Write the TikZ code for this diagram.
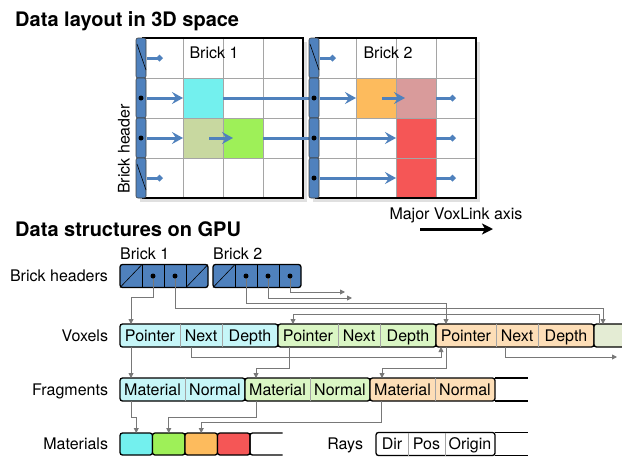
\documentclass[tikz,border=0pt]{standalone}
\usepackage{fontspec}
\setmainfont{TeX Gyre Heros}
\usetikzlibrary{positioning,arrows.meta,backgrounds}
\definecolor{brickblue}{RGB}{79,129,189}
\definecolor{vxcyan}{RGB}{115,240,238}
\definecolor{vxolive}{RGB}{200,216,160}
\definecolor{vxgreen}{RGB}{158,240,88}
\definecolor{vxorange}{RGB}{253,187,93}
\definecolor{vxpink}{RGB}{217,155,155}
\definecolor{vxred}{RGB}{245,86,86}
\definecolor{paleCyan}{RGB}{198,246,248}
\definecolor{paleGreen}{RGB}{218,246,196}
\definecolor{paleOrange}{RGB}{253,222,183}
\definecolor{paleOlive}{RGB}{228,236,212}
\definecolor{linkgray}{RGB}{120,120,120}
\definecolor{gridgray}{RGB}{165,165,165}

\begin{document}
\begin{tikzpicture}[x=1pt,y=-1pt,
    lbl/.style={font=\fontsize{16}{18}\selectfont,inner sep=0pt},
    ttl/.style={font=\fontsize{20}{23}\selectfont\bfseries,anchor=base west,inner sep=0pt},
    cell/.style={font=\fontsize{16}{18}\selectfont,minimum height=23pt,
                 text height=12pt,text depth=1pt,inner sep=0pt,outer sep=0pt,anchor=west},
    rowlbl/.style={cell,anchor=east},
    hcell/.style={minimum width=22pt,minimum height=23pt,inner sep=0pt,outer sep=0pt,anchor=west},
    matbox/.style={draw,line width=1.3pt,rounded corners=2.5pt,minimum width=32.5pt,
                   minimum height=22pt,inner sep=0pt,outer sep=0pt,anchor=west},
    grp/.style={draw=black,line width=1.3pt,rounded corners=2.5pt},
    sep/.style={draw=gridgray,line width=0.7pt},
    link/.style={draw=linkgray,line width=0.9pt,-{Triangle[length=5pt,width=5pt]}},
    vox/.style={draw=brickblue,line width=3pt,-{Stealth[length=11pt,width=12pt,inset=4pt]}},
    voxend/.style={draw=brickblue,line width=3pt,-{Diamond[length=7pt,width=7pt]}},
    voxline/.style={draw=brickblue,line width=3pt},
    ptr/.style={circle,fill=black,inner sep=0pt,minimum size=5pt}]
  \useasboundingbox (0,0) rectangle (622,456);

  % ---- data layout in 3D space
  \node[ttl] (title1) at (15,26) {Data layout in 3D space};
  \foreach \bx in {143,316} {
    \fill[black!12] (\bx-3,42) rectangle (\bx+164,202);
    \fill[white] (\bx,38) rectangle (\bx+160,198);
  }
  \fill[vxcyan]   (183,78)  rectangle (223,118);
  \fill[vxolive]  (183,118) rectangle (223,158);
  \fill[vxgreen]  (223,118) rectangle (263,158);
  \fill[vxorange] (356,78)  rectangle (396,118);
  \fill[vxpink]   (396,78)  rectangle (436,118);
  \fill[vxred]    (396,118) rectangle (436,198);
  \foreach \bx in {143,316} {
    \foreach \i in {1,2,3} {
      \draw[gridgray,line width=0.8pt] (\bx+40*\i,38) -- (\bx+40*\i,198);
      \draw[gridgray,line width=0.8pt] (\bx,38+40*\i) -- (\bx+160,38+40*\i);
    }
    \draw[line width=1.5pt] (\bx,38) rectangle (\bx+160,198);
  }
  \node[lbl] (brick1) at (214,53) {Brick 1};
  \node[lbl] (brick2) at (388,53) {Brick 2};
  \node[lbl,rotate=90] (bhdr) at (124,149) {Brick header};

  % voxel runs along the major axis
  \draw[voxend] (147,58) -- (163,58);
  \draw[vox] (147,98) -- (183,98);
  \draw[voxline] (223,98) -- (312,98);
  \draw[vox] (147,138) -- (183,138);
  \draw[vox] (209,138) -- (233,138);
  \draw[voxline] (263,138) -- (312,138);
  \draw[voxend] (147,178) -- (163,178);
  \draw[voxend] (320,58) -- (336,58);
  \draw[vox] (320,98) -- (356,98);
  \draw[vox] (382,98) -- (405,98);
  \draw[voxend] (436,98) -- (456,98);
  \draw[vox] (320,138) -- (396,138);
  \draw[voxend] (436,138) -- (456,138);
  \draw[vox] (320,178) -- (396,178);
  \draw[voxend] (436,178) -- (456,178);

  % header bars
  \foreach \bx/\nulls in {143/{0,3},316/{0}} {
    \foreach \r in {0,...,3}
      \filldraw[fill=brickblue,draw=black!75,line width=0.6pt,rounded corners=2pt]
        (\bx-7,38+40*\r) rectangle (\bx+3,78+40*\r);
    \foreach \r in \nulls
      \draw[line width=0.6pt] (\bx-6,44+40*\r) -- (\bx+3,70+40*\r);
  }
  \foreach \px/\py in {141/98,141/138,314/98,314/138,314/178}
    \node[ptr] at (\px,\py) {};

  \node[lbl] (axislbl) at (456,215) {Major VoxLink axis};
  \coordinate (axisA) at (420,229);
  \coordinate (axisB) at (493,229);
  \draw[line width=3pt,-{Stealth[length=11pt,width=11pt,inset=3pt]}] (axisA) -- (axisB);

  % ---- data structures on GPU
  \node[ttl] (title2) at (15,236) {Data structures on GPU};
  \node[lbl,anchor=base west] (hb1) at (120,259) {Brick 1};
  \node[lbl,anchor=base west] (hb2) at (213,259) {Brick 2};

  \node[rowlbl] (lhdr) at (108,276) {Brick headers};
  \node[rowlbl] (lvox) at (108,335.5) {Voxels};
  \node[rowlbl] (lfrag) at (108,389.5) {Fragments};
  \node[rowlbl] (lmat) at (108,444) {Materials};
  \node[rowlbl] (lray) at (363,444) {Rays};

  % brick headers
  \node[hcell] (h1a) at (120,276) {};
  \node[hcell,right=0pt of h1a] (h1b) {};
  \node[hcell,right=0pt of h1b] (h1c) {};
  \node[hcell,right=0pt of h1c] (h1d) {};
  \node[hcell] (h2a) at (213,276) {};
  \node[hcell,right=0pt of h2a] (h2b) {};
  \node[hcell,right=0pt of h2b] (h2c) {};
  \node[hcell,right=0pt of h2c] (h2d) {};

  % voxels
  \node[cell,minimum width=60pt] (vP1) at (120,335.5) {Pointer};
  \node[cell,minimum width=42pt,right=0pt of vP1] (vN1) {Next};
  \node[cell,minimum width=56pt,right=0pt of vN1] (vD1) {Depth};
  \node[cell,minimum width=60pt,right=0pt of vD1] (vP2) {Pointer};
  \node[cell,minimum width=42pt,right=0pt of vP2] (vN2) {Next};
  \node[cell,minimum width=56pt,right=0pt of vN2] (vD2) {Depth};
  \node[cell,minimum width=60pt,right=0pt of vD2] (vP3) {Pointer};
  \node[cell,minimum width=42pt,right=0pt of vP3] (vN3) {Next};
  \node[cell,minimum width=56pt,right=0pt of vN3] (vD3) {Depth};
  \node[cell,minimum width=40pt,right=0pt of vD3] (vx4) {};

  % fragments
  \node[cell,minimum width=65pt] (fM1) at (120,389.5) {Material};
  \node[cell,minimum width=60pt,right=0pt of fM1] (fN1) {Normal};
  \node[cell,minimum width=65pt,right=0pt of fN1] (fM2) {Material};
  \node[cell,minimum width=60pt,right=0pt of fM2] (fN2) {Normal};
  \node[cell,minimum width=65pt,right=0pt of fN2] (fM3) {Material};
  \node[cell,minimum width=60pt,right=0pt of fM3] (fN3) {Normal};

  % materials and rays
  \node[matbox,fill=vxcyan] (mt1) at (120,444) {};
  \node[matbox,fill=vxgreen,right=0pt of mt1] (mt2) {};
  \node[matbox,fill=vxorange,right=0pt of mt2] (mt3) {};
  \node[matbox,fill=vxred,right=0pt of mt3] (mt4) {};
  \node[matbox,draw=none,right=0pt of mt4] (mt5) {};
  \node[cell,minimum width=32pt] (rD) at (376,444) {Dir};
  \node[cell,minimum width=37pt,right=0pt of rD] (rP) {Pos};
  \node[cell,minimum width=50pt,right=0pt of rP] (rO) {Origin};

  \begin{scope}[on background layer]
    \filldraw[grp,fill=brickblue] (h1a.north west) rectangle (h1d.south east);
    \filldraw[grp,fill=brickblue] (h2a.north west) rectangle (h2d.south east);
    \filldraw[grp,fill=paleCyan] (vP1.north west) rectangle (vD1.south east);
    \filldraw[grp,fill=paleGreen] (vP2.north west) rectangle (vD2.south east);
    \filldraw[grp,fill=paleOrange] (vP3.north west) rectangle (vD3.south east);
    \filldraw[grp,fill=paleOlive] (vx4.north west) rectangle ([xshift=10pt]vx4.south east);
    \filldraw[grp,fill=paleCyan] (fM1.north west) rectangle (fN1.south east);
    \filldraw[grp,fill=paleGreen] (fM2.north west) rectangle (fN2.south east);
    \filldraw[grp,fill=paleOrange] (fM3.north west) rectangle (fN3.south east);
    \filldraw[grp,fill=white] (rD.north west) rectangle (rO.south east);
  \end{scope}

  % open slots at the end of the arrays
  \draw[line width=1.3pt] (fN3.north east) -- ++(33,0);
  \draw[line width=1.3pt] (fN3.south east) -- ++(33,0);
  \draw[line width=1.3pt] (rO.north east) -- ++(33,0);
  \draw[line width=1.3pt] (rO.south east) -- ++(33,0);
  \draw[line width=1.3pt,rounded corners=2.5pt]
    (mt5.north east) -- (mt5.north west) -- (mt5.south west) -- (mt5.south east);

  % cell separators
  \foreach \c in {h1a,h1b,h1c,h2a,h2b,h2c}
    \draw[line width=0.6pt] (\c.north east) -- (\c.south east);
  \foreach \c in {vP1,vN1,vP2,vN2,vP3,vN3,fM1,fM2,fM3,rD,rP}
    \draw[sep] (\c.north east) -- (\c.south east);
  \foreach \c in {h1a,h1d,h2a}
    \draw[line width=0.6pt] (\c.south west) -- (\c.north east);

  % links
  \coordinate (hfree1) at (352,298);
  \coordinate (hfree2) at (345,292);
  \coordinate (vfree) at (617,357);
  \draw[link] (h1b.center) |- (131,297) -- ([xshift=11pt]vP1.north west);
  \draw[link] (h1c.center) |- (603,308) -- ([xshift=9pt]vx4.north west);
  \draw[link] (h2b.center) |- (446,303) -- ([xshift=10pt]vP3.north west);
  \draw[link] (h2c.center) |- (hfree1);
  \draw[link] (h2d.center) |- (hfree2);
  \draw[link] ([xshift=5pt]vx4.north west) |- (293,314) -- ([xshift=15pt]vP2.north west);

  \draw[link] ([xshift=11pt]vP1.south west) -- ([xshift=11pt]fM1.north west);
  \draw[link] ([xshift=11pt]vN1.south west) |- (441,357) -- ([xshift=5pt]vP3.south west);
  \draw[link] ([xshift=11pt]vP2.south west) |- (256,368) -- ([xshift=11pt]fM2.north west);
  \draw[link] ([xshift=10pt]vP3.south west) |- (382,368) -- ([xshift=12pt]fM3.north west);
  \draw[link] ([xshift=9pt]vN3.south west) |- (vfree);

  \draw[link] ([xshift=11pt]fM1.south west) |- (mt1.north |- 0,417) -- (mt1.north);
  \draw[link] ([xshift=11pt]fM2.south west) |- (mt2.north |- 0,417) -- (mt2.north);
  \draw[link] ([xshift=11pt]fM3.south west) |- (mt3.north |- 0,422) -- (mt3.north);

  \foreach \c in {h1b,h1c,h2b,h2c,h2d}
    \node[ptr] at (\c.center) {};
\end{tikzpicture}
\end{document}
